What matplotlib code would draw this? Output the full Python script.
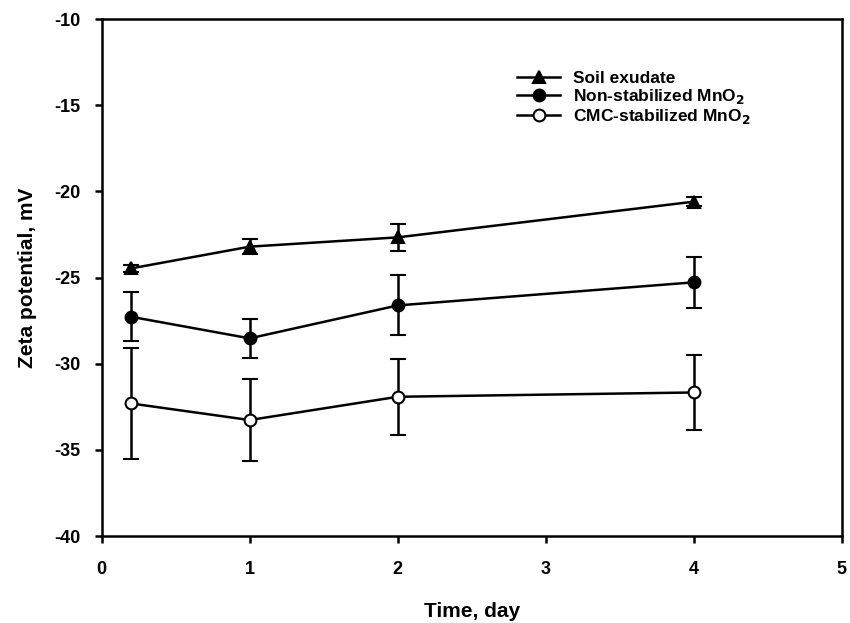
import matplotlib
matplotlib.use("Agg")
import matplotlib.pyplot as plt

plt.rcParams["font.family"] = ["Liberation Sans", "DejaVu Sans"]
plt.rcParams["font.weight"] = "bold"
plt.rcParams["mathtext.default"] = "bf"
plt.rcParams["axes.unicode_minus"] = False

# Datos
time = [0.2, 1, 2, 4]
soil = [-24.47, -23.21, -22.67, -20.60]
soil_err = [0.2, 0.45, 0.77, 0.25]
nonstab = [-27.28, -28.53, -26.62, -25.28]
nonstab_err = [1.42, 1.13, 1.74, 1.48]
cmc = [-32.31, -33.27, -31.92, -31.67]
cmc_err = [3.2, 2.4, 2.19, 2.17]

labels = ["Soil exudate", "Non-stabilized MnO$_2$", "CMC-stabilized MnO$_2$"]

fig = plt.figure(figsize=(8.5, 6.23), dpi=100)
ax = fig.add_axes([0.1196, 0.1396, 0.8706, 0.8299])

kw = dict(color="black", linewidth=1.8, elinewidth=1.8, capsize=5.5, capthick=1.8,
          markersize=8.5, markeredgecolor="black", markeredgewidth=1.5)
ax.errorbar(time, soil, yerr=soil_err, marker="^", markerfacecolor="black",
            label=labels[0], **kw)
ax.errorbar(time, nonstab, yerr=nonstab_err, marker="o", markerfacecolor="black",
            label=labels[1], **kw)
ax.errorbar(time, cmc, yerr=cmc_err, marker="o", markerfacecolor="white",
            label=labels[2], zorder=3, **kw)

ax.set_xlim(0, 5)
ax.set_ylim(-40, -10)
ax.set_xticks(range(0, 6))
ax.set_yticks(range(-40, -9, 5))
ax.tick_params(axis="both", direction="out", length=5, width=1.8, labelsize=13,
               top=False, right=False)
ax.tick_params(axis="x", pad=13)
ax.tick_params(axis="y", pad=10)
for lbl in ax.get_xticklabels() + ax.get_yticklabels():
    lbl.set_fontweight("bold")
for sp in ax.spines.values():
    sp.set_linewidth(1.8)

ax.set_xlabel("Time, day", fontsize=15, fontweight="bold", labelpad=17)
ax.set_ylabel("Zeta potential, mV", fontsize=15, fontweight="bold", labelpad=13)

handles, _ = ax.get_legend_handles_labels()
handles = [h[0] for h in handles]
leg = ax.legend(handles, labels, loc="upper left", bbox_to_anchor=(0.54, 0.93),
                frameon=False, handlelength=2.5, handletextpad=0.75,
                labelspacing=0.05, prop={"weight": "bold", "size": 12.5})

fig.savefig("out.png", dpi=100)
